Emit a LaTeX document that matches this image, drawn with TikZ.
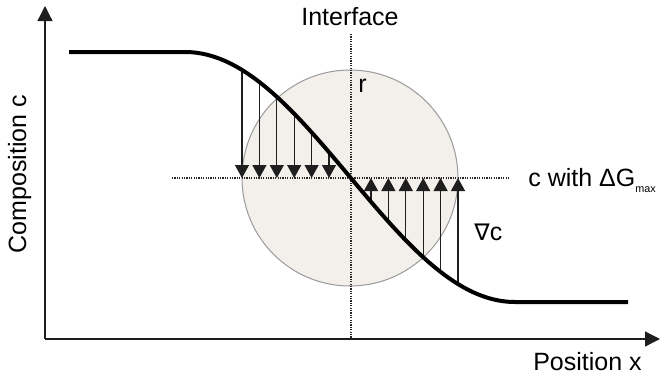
\documentclass[tikz,border=0pt]{standalone}
\usepackage{fontspec}
\setmainfont{Liberation Sans}
\newfontfamily\dejavu{DejaVu Sans}
\usetikzlibrary{arrows.meta}
\definecolor{circfill}{HTML}{F3F0EC}
\definecolor{circline}{HTML}{9A9A9A}
\definecolor{shaft}{HTML}{1E1E1E}
\begin{document}
\begin{tikzpicture}[x=0.5pt,y=-0.5pt,
  lbl/.style={inner sep=0pt,font=\fontsize{12.5}{15}\selectfont},
  axis/.style={line width=0.65pt,draw=shaft,-{Triangle[width=7.5pt,length=7.5pt]}},
  guide/.style={line width=0.6pt,dash pattern=on 0.6pt off 0.6pt,draw=black!85},
  flux/.style={line width=0.65pt,draw=shaft,-{Triangle[width=7pt,length=6.5pt]}},
  profile/.style={line width=2pt,line join=round}]
\useasboundingbox (0,0) rectangle (660,376);
% circle
\node[circle,draw=circline,fill=circfill,line width=0.5pt,minimum size=108pt,inner sep=0pt] (circ) at (350,178) {};
% axes
\coordinate (origin) at (45,339);
\coordinate (ytip) at (45,6);
\coordinate (xtip) at (660,339);
\draw[axis] (origin) -- (ytip);
\draw[axis] (origin) -- (xtip);
% guides
\coordinate (vtop) at (351,34);
\coordinate (vbot) at (351,338);
\coordinate (hl) at (172,178);
\coordinate (hr) at (510,178);
\draw[guide] (vtop) -- (vbot);
\draw[guide] (hl) -- (hr);
% arrows
\foreach \i in {0,...,5}{
  \pgfmathsetmacro{\d}{21+17.4*\i}
  \pgfmathsetmacro{\dy}{125*sin(90*\d/165)}
  \coordinate (dstart\i) at ({350-\d},{177-\dy});
  \coordinate (dend\i) at ({350-\d},178);
  \coordinate (ustart\i) at ({350+\d},{177+\dy});
  \coordinate (uend\i) at ({350+\d},178);
  \draw[flux] (dstart\i) -- (dend\i);
  \draw[flux] (ustart\i) -- (uend\i);
}
% profile
\coordinate (pl) at (69,52);
\coordinate (pr) at (628,302);
\draw[profile] (pl) -- (185,52)
  -- plot[domain=-165:165,samples=120,smooth] ({350+\x},{177+125*sin(90*\x/165)})
  -- (pr);
% labels
\node[lbl,anchor=base] (interface) at (350,25) {Interface};
\node[lbl,anchor=base west] (rlab) at (358,92) {r};
\node[lbl,anchor=base west] (cwith) at (528,186) {c with \char"0394G\raisebox{-3pt}{\fontsize{5.4}{6}\selectfont max}};
\node[lbl,anchor=base west] (grad) at (474,240) {{\dejavu\fontsize{11.5}{14}\selectfont ∇}c};
\node[lbl,anchor=base,rotate=90] (ylab) at (26,174) {Composition c};
\node[lbl,anchor=base] (xlab) at (587.5,370) {Position x};
\end{tikzpicture}
\end{document}
